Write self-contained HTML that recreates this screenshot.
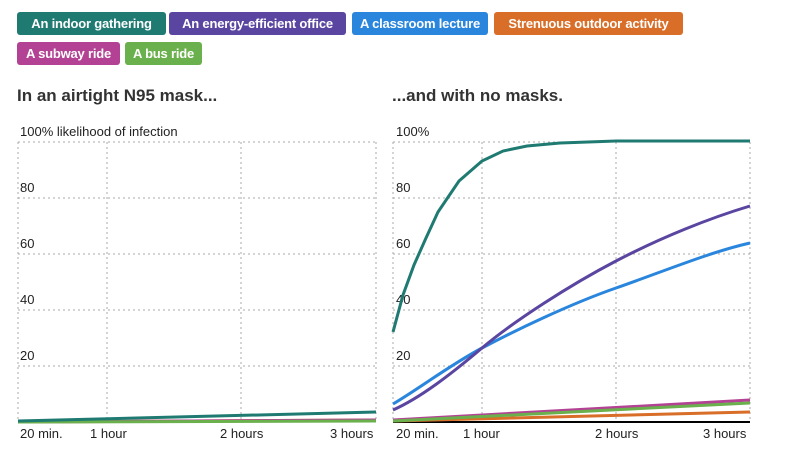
<!DOCTYPE html><html><head><style>
body{margin:0;width:800px;height:450px;background:#fff;font-family:"Liberation Sans",sans-serif;position:relative;overflow:hidden}
.tag{position:absolute;box-sizing:border-box;height:23px;line-height:23px;border-radius:3px;color:#fff;font-weight:bold;font-size:13px;text-align:center;white-space:nowrap;letter-spacing:-0.2px}
.h{position:absolute;font-weight:bold;font-size:17px;color:#333}
</style></head><body>
<div class="tag" style="left:17px;top:12px;width:149px;background:#1f7a72">An indoor gathering</div>
<div class="tag" style="left:169px;top:12px;width:177px;background:#5a45a0">An energy-efficient office</div>
<div class="tag" style="left:352px;top:12px;width:136px;background:#2a86dd">A classroom lecture</div>
<div class="tag" style="left:494px;top:12px;width:189px;background:#d86e28">Strenuous outdoor activity</div>
<div class="tag" style="left:17px;top:42px;width:103px;background:#b34294">A subway ride</div>
<div class="tag" style="left:125px;top:42px;width:77px;background:#6ab04c">A bus ride</div>
<div class="h" style="left:17px;top:86px">In an airtight N95 mask...</div>
<div class="h" style="left:392px;top:86px">...and with no masks.</div>
<svg width="800" height="450" style="position:absolute;left:0;top:0" font-family="Liberation Sans,sans-serif" font-size="13" fill="#222">
<g stroke="#aaa" stroke-dasharray="2,3" stroke-width="1">
<path d="M18 142H376M18 198H376M18 254H376M18 310H376M18 366H376M18 142V422M107 142V422M241 142V422M376 142V422"/>
<path d="M393 142H750M393 198H750M393 254H750M393 310H750M393 366H750M393 142V422M482 142V422M616 142V422M750 142V422"/>
</g>
<g fill="#fff"><rect x="20" y="180" width="20" height="14"/><rect x="20" y="236" width="20" height="14"/><rect x="20" y="292" width="20" height="14"/><rect x="20" y="348" width="20" height="14"/>
<rect x="395" y="180" width="20" height="14"/><rect x="395" y="236" width="20" height="14"/><rect x="395" y="292" width="20" height="14"/><rect x="395" y="348" width="20" height="14"/></g>
<text x="20" y="136">100% likelihood of infection</text>
<text x="20" y="192">80</text><text x="20" y="248">60</text><text x="20" y="304">40</text><text x="20" y="360">20</text>
<text x="396" y="136">100%</text>
<text x="396" y="192">80</text><text x="396" y="248">60</text><text x="396" y="304">40</text><text x="396" y="360">20</text>
<text x="20" y="438">20 min.</text><text x="90" y="438">1 hour</text><text x="220" y="438">2 hours</text><text x="330" y="438">3 hours</text>
<text x="396" y="438">20 min.</text><text x="463" y="438">1 hour</text><text x="595" y="438">2 hours</text><text x="703" y="438">3 hours</text>
<g fill="none" stroke-width="3">
<path d="M18 422L376 420" stroke="#d86e28"/>
<path d="M18 422L376 420" stroke="#b34294"/>
<path d="M18 422L376 421" stroke="#6ab04c"/>
<path d="M18 421L376 412" stroke="#1f7a72"/>
<path d="M393 422H750" stroke="#000" stroke-width="2"/>
<path d="M393 421L750 412" stroke="#d86e28"/>
<path d="M393 420L750 400" stroke="#b34294"/>
<path d="M393 421L750 403" stroke="#6ab04c"/>
<path d="M393 404C420 388 450 365 482 348S570 304 616 288S710 252 750 243" stroke="#2a86dd"/>
<path d="M393 410C420 398 450 375 482 348S570 285 616 261S710 218 750 206" stroke="#5a45a0"/>
<path d="M393 332L403 295L414 265L426 238L438 212L459 181L482 161L503 151L527 146L560 143L616 141L750 141" stroke="#1f7a72"/>
</g>
</svg>
</body></html>
